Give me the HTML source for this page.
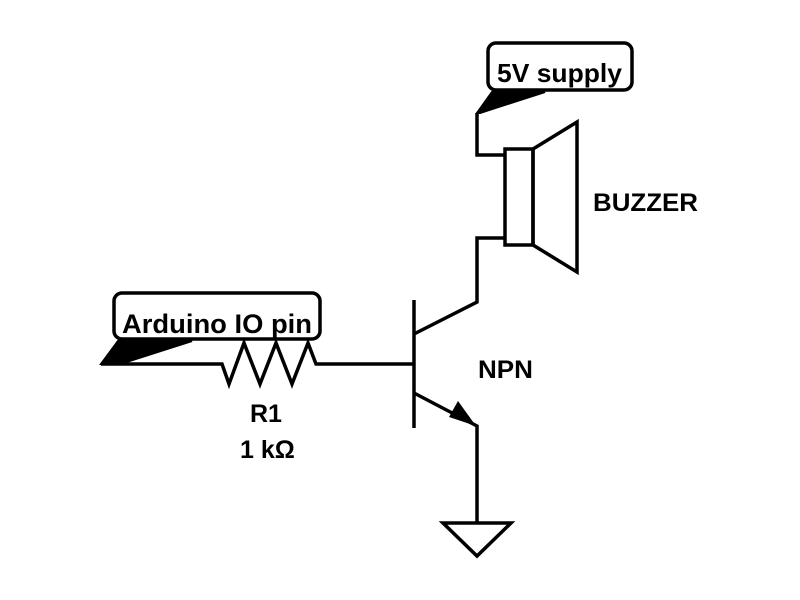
<!DOCTYPE html>
<html><head><style>
html,body{margin:0;padding:0;background:#fff;}
svg{display:block}
text{font-family:"Liberation Sans",sans-serif;font-weight:bold;fill:#000}
</style></head><body>
<svg width="800" height="600" viewBox="0 0 800 600" xmlns="http://www.w3.org/2000/svg">
<g fill="none" stroke="#000" stroke-width="3.5" stroke-linejoin="miter">
<rect x="114" y="293" width="206" height="46" rx="8" fill="#fff"/>
<polygon points="101,364 118,341 192,341 120,364" fill="#000" stroke-width="2"/>
<polyline points="101,364 222,364 229,384 244,343 260,384 276,343 292,384 308,343 316,364 414,364"/>
<line x1="414" y1="300" x2="414" y2="428"/>
<polyline points="414,334 477,302 477,238 505,238"/>
<polyline points="414,393 477,426 477,523"/>
<polygon points="443,523 511,523 477,556" fill="#fff"/>
<rect x="505" y="149" width="28" height="96" fill="#fff"/>
<polygon points="533,149 577,122 577,272 533,245"/>
<polyline points="505,155 477,155 477,113"/>
<rect x="488" y="43" width="144" height="47" rx="8" fill="#fff"/>
<polygon points="477,113 492,92 545,92 480,113" fill="#000" stroke-width="2"/>
</g>
<polygon points="476,426 449,417 458,401" fill="#000"/>
<text x="122" y="333" font-size="26.5" textLength="190" lengthAdjust="spacingAndGlyphs">Arduino IO pin</text>
<text x="497" y="82" font-size="26" textLength="125" lengthAdjust="spacingAndGlyphs">5V supply</text>
<text x="593" y="211" font-size="25" textLength="105" lengthAdjust="spacingAndGlyphs">BUZZER</text>
<text x="478" y="378" font-size="25" textLength="55" lengthAdjust="spacingAndGlyphs">NPN</text>
<text x="250" y="422" font-size="25">R1</text>
<text x="240" y="458" font-size="25">1 kΩ</text>
</svg>
</body></html>
